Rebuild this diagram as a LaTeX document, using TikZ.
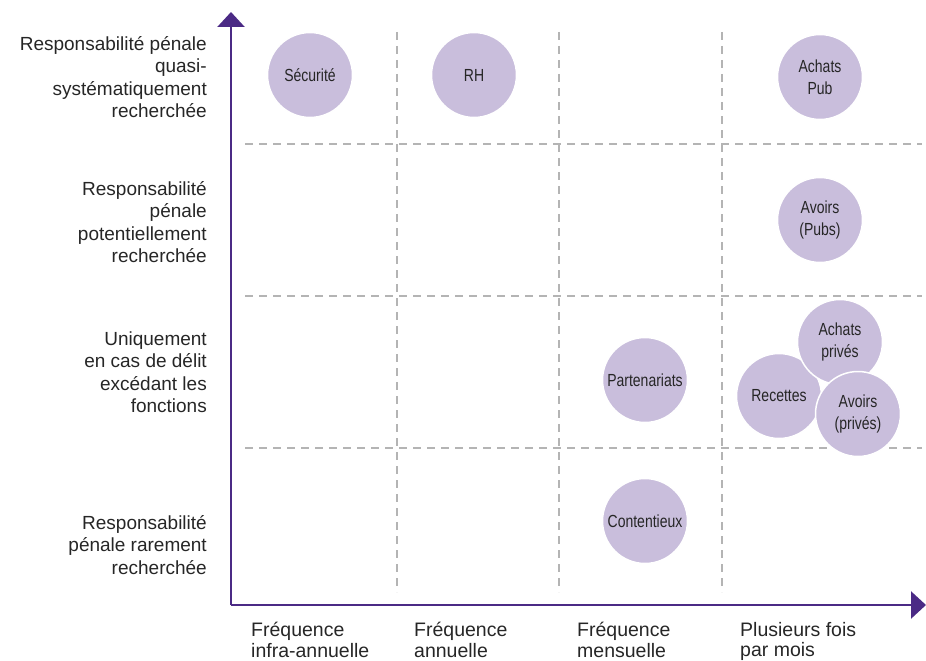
\documentclass[tikz,border=0pt]{standalone}
\usepackage{fontspec}
\setmainfont{Liberation Sans}
\newfontfamily\condfont[FakeStretch=0.8]{Liberation Sans}
\usetikzlibrary{arrows.meta}
\definecolor{axispurple}{HTML}{4B2A85}
\definecolor{bubble}{HTML}{C9BEDC}
\definecolor{gridgray}{HTML}{B4B4B4}
\definecolor{txt}{HTML}{262626}
\tikzset{
  axisline/.style={draw=axispurple, line width=2.5pt, -{Triangle[length=15pt,width=27pt]}},
  gridline/.style={draw=gridgray, line width=1.5pt, dash pattern=on 8pt off 6pt},
  bubblenode/.style={circle, fill=bubble, draw=white, line width=1.5pt, minimum size=85pt, inner sep=0pt, align=center, font=\condfont\fontsize{17.5}{22}\selectfont, text=txt},
  rowlabel/.style={anchor=east, align=right, font=\fontsize{19}{22.5}\selectfont, text=txt, inner sep=0pt},
  collabel/.style={anchor=north west, align=left, font=\fontsize{19.5}{20.5}\selectfont, text=txt, inner sep=0pt}
}
\begin{document}
\begin{tikzpicture}[x=1pt,y=-1pt]
\useasboundingbox (0,0) rectangle (926,661);
% grid
\foreach \gx in {397,559,722} \draw[gridline] (\gx,32) -- (\gx,592);
\foreach \gy in {144,296,448} \draw[gridline] (245,\gy) -- (922,\gy);
% axes
\coordinate (origin) at (231,605);
\coordinate (ytip) at (231,12);
\coordinate (xtip) at (926,605);
\draw[axisline] (origin) -- (ytip);
\draw[axisline] (origin) -- (xtip);
% row labels
\node[rowlabel] (r1) at (207,77) {Responsabilité pénale\\quasi-\\systématiquement\\recherchée};
\node[rowlabel] (r2) at (207,222) {Responsabilité\\pénale\\potentiellement\\recherchée};
\node[rowlabel] (r3) at (207,372) {Uniquement\\en cas de délit\\excédant les\\fonctions};
\node[rowlabel] (r4) at (207,545) {Responsabilité\\pénale rarement\\recherchée};
% column labels
\node[collabel] (c1) at (251,622) {Fréquence\\infra-annuelle};
\node[collabel] (c2) at (414,622) {Fréquence\\annuelle};
\node[collabel] (c3) at (577,622) {Fréquence\\mensuelle};
\node[collabel] (c4) at (740,622) {Plusieurs fois\\par mois};
% bubbles
\node[bubblenode] (securite) at (310,75) {Sécurité};
\node[bubblenode] (rh) at (474,75) {RH};
\node[bubblenode] (achatspub) at (820,77) {Achats\\Pub};
\node[bubblenode] (avoirspubs) at (820,220) {Avoirs\\(Pubs)};
\node[bubblenode] (partenariats) at (645,380) {Partenariats};
\node[bubblenode] (contentieux) at (645,521) {Contentieux};
\node[bubblenode] (recettes) at (779,396) {Recettes};
\node[bubblenode] (achatsprives) at (840,342) {Achats\\privés};
\node[bubblenode] (avoirsprives) at (858,414) {Avoirs\\(privés)};
\end{tikzpicture}
\end{document}
